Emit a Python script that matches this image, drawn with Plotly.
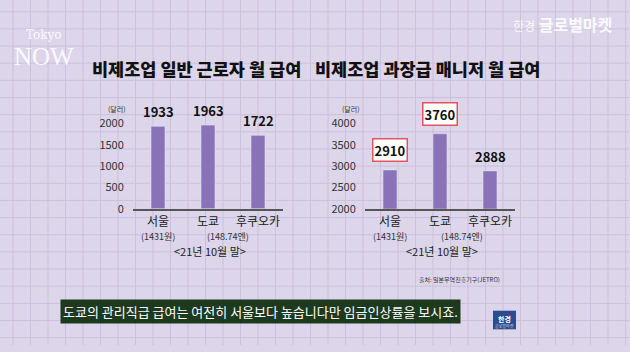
import plotly.graph_objects as go

# ---- data ----
cities = ["서울", "도쿄", "후쿠오카"]
worker_pay = [1933, 1963, 1722]
manager_pay = [2910, 3760, 2888]
worker_ticks = [0, 500, 1000, 1500, 2000]
manager_ticks = [2000, 2500, 3000, 3500, 4000]
highlight_manager = ["서울", "도쿄"]
title_left = "비제조업 일반 근로자 월 급여"
title_right = "비제조업 과장급 매니저 월 급여"
unit = "(달러)"
period = "<21년 10월 말>"
fx_seoul = "(1431원)"
fx_tokyo = "(148.74엔)"
source = "출처: 일본무역진흥기구(JETRO)"
caption = "도쿄의 관리직급 급여는 여전히 서울보다 높습니다만 임금인상률을 보시죠."

W, H = 630, 352
FONT = "Noto Sans CJK KR"
BAR = "#8a72b8"
BG = "#ddd5ea"
GRID = "#cbc1dc"

def px(x):
    return x / W

def py(y):
    return 1 - y / H

fig = go.Figure()
fig.add_trace(go.Bar(x=cities, y=worker_pay, marker_color=BAR, width=0.28,
                     xaxis="x", yaxis="y", hoverinfo="skip"))
fig.add_trace(go.Bar(x=cities, y=manager_pay, marker_color=BAR, width=0.28,
                     xaxis="x2", yaxis="y2", hoverinfo="skip"))

shapes = []
# background grid
step = 17.5
x = 13
while x < W:
    shapes.append(dict(type="line", xref="paper", yref="paper", x0=px(x), x1=px(x),
                       y0=0, y1=1, line=dict(color=GRID, width=1), layer="below"))
    x += step
y = 12
while y < H:
    shapes.append(dict(type="line", xref="paper", yref="paper", x0=0, x1=1,
                       y0=py(y), y1=py(y), line=dict(color=GRID, width=1), layer="below"))
    y += step

ydom = [py(213), py(100)]
per = (213 - 100) / 43.5 * 1000
axis_common = dict(showgrid=False, zeroline=False, fixedrange=True)

ann = []
def text(x, y, s, size, color="#222", bold=False, xanchor="center", yanchor="middle",
         family=FONT, weight=None, **kw):
    if bold:
        s = "<b>" + s + "</b>"
    f = dict(family=family, size=size, color=color)
    if weight:
        f["weight"] = weight
    ann.append(dict(x=px(x), y=py(y), xref="paper", yref="paper", text=s, showarrow=False,
                    xanchor=xanchor, yanchor=yanchor, font=f, **kw))

# titles
text(90, 70, title_left, 17.5, "#111", xanchor="left", weight=900)
text(313, 70, title_right, 17.5, "#111", xanchor="left", weight=900)
# units
text(117, 111, unit, 7, "#333")
text(351, 111, unit, 7, "#333")
# fx notes
text(158, 241, fx_seoul, 9, "#333")
text(228, 241, fx_tokyo, 9, "#333")
text(390, 241, fx_seoul, 9, "#333")
text(462, 241, fx_tokyo, 9, "#333")
# period
text(210, 256, period, 11, "#222")
text(442, 256, period, 11, "#222")
# source
text(417, 285, source, 6, "#333", xanchor="left")

# value labels
for c, v in zip(cities, worker_pay):
    ann.append(dict(x=c, y=v, xref="x", yref="y", text="<b>%d</b>" % v, showarrow=False,
                    yanchor="bottom", yshift=3, font=dict(family=FONT, size=13, color="#111")))
for c, v in zip(cities, manager_pay):
    a = dict(x=c, y=v, xref="x2", yref="y2", text="<b>%d</b>" % v, showarrow=False,
             yanchor="bottom", font=dict(family=FONT, size=13, color="#111"))
    if c in highlight_manager:
        a.update(bgcolor="white", bordercolor="#e05560", borderwidth=1.5, borderpad=1, yshift=8)
    else:
        a.update(yshift=3)
    ann.append(a)

# caption
text(260, 318, caption, 13, "white", bgcolor="#1e3a1e", borderpad=2)

# logos
text(44, 36, "Tokyo", 12, "rgba(255,255,255,0.9)", family="DejaVu Serif")
text(44, 58, "NOW", 25, "rgba(255,255,255,0.9)", family="Liberation Serif")
text(615, 24, "<span style='font-size:12px'>한경</span> <b>글로벌마켓</b>", 16,
     "rgba(255,255,255,0.9)", xanchor="right")
shapes.append(dict(type="rect", xref="paper", yref="paper", x0=px(493), x1=px(516),
                   y0=py(336), y1=py(317), fillcolor="#2d4b8e", line=dict(width=0)))
text(504.5, 325, "한경", 7, "white", True)
text(504.5, 333, "글로벌마켓", 4, "#ccd")

fig.update_layout(
    width=W, height=H, margin=dict(l=0, r=0, t=0, b=0),
    paper_bgcolor=BG, plot_bgcolor="rgba(0,0,0,0)", showlegend=False,
    shapes=shapes, annotations=ann,
    xaxis=dict(domain=[px(133), px(283)], anchor="y", showline=True, linecolor="#555", linewidth=1.5,
               tickfont=dict(family=FONT, size=12, color="#222"), ticks="outside", ticklen=1,
               tickcolor="rgba(0,0,0,0)", **axis_common),
    yaxis=dict(domain=ydom, anchor="x", range=[0, per], tickvals=worker_ticks,
               tickfont=dict(family=FONT, size=11, color="#333"), ticks="outside", ticklen=6,
               tickcolor="rgba(0,0,0,0)", showline=False, **axis_common),
    xaxis2=dict(domain=[px(365), px(515)], anchor="y2", showline=True, linecolor="#555", linewidth=1.5,
                tickfont=dict(family=FONT, size=12, color="#222"), ticks="outside", ticklen=1,
                tickcolor="rgba(0,0,0,0)", **axis_common),
    yaxis2=dict(domain=ydom, anchor="x2", range=[2000, 2000 + per], tickvals=manager_ticks,
                tickfont=dict(family=FONT, size=11, color="#333"), ticks="outside", ticklen=6,
                tickcolor="rgba(0,0,0,0)", showline=False, **axis_common),
)

fig.write_html("out.html")
